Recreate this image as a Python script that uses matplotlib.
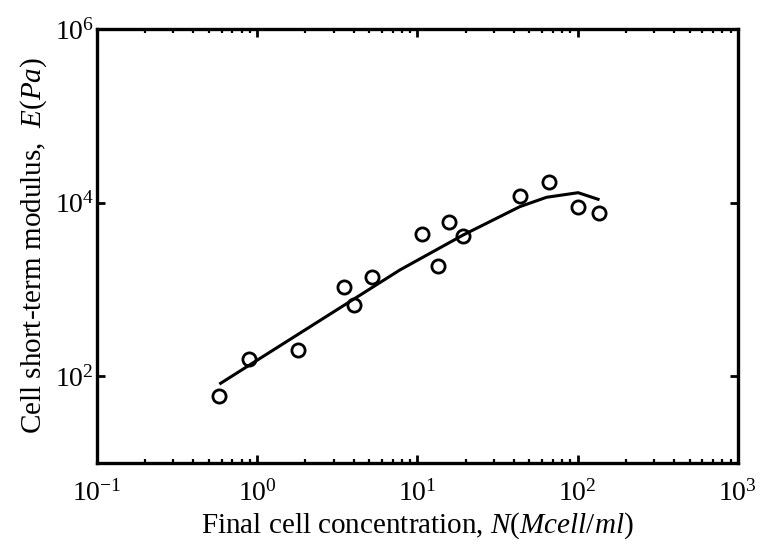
import matplotlib
matplotlib.use('Agg')
import matplotlib.pyplot as plt
from matplotlib.ticker import LogLocator, NullLocator, FixedLocator

plt.rcParams['font.family'] = 'Liberation Serif'
plt.rcParams['mathtext.fontset'] = 'custom'
plt.rcParams['mathtext.rm'] = 'Liberation Serif'
plt.rcParams['mathtext.it'] = 'Liberation Serif:italic'

# measured data (circles)
conc = [0.577, 0.89, 1.80, 3.49, 4.01, 5.21, 10.7, 13.5, 15.8, 19.3, 43.5, 66, 99.8, 135]
modulus = [59.6, 157, 199, 1057, 667, 1378, 4350, 1876, 6030, 4125, 11900, 17400, 8830, 7650]

# fitted curve
fit_conc = [0.591, 7.77, 19.3, 43.5, 63.9, 100.6, 134]
fit_modulus = [82.8, 1674, 4236, 8970, 11510, 13000, 10920]

xticks = [0.1, 1, 10, 100, 1000]
xtick_labels = [r'$10^{-1}$', r'$10^{0}$', r'$10^{1}$', r'$10^{2}$', r'$10^{3}$']
yticks = [1e2, 1e4, 1e6]
ytick_labels = [r'$10^{2}$', r'$10^{4}$', r'$10^{6}$']

fig = plt.figure(figsize=(7.6, 5.47), dpi=100)
ax = fig.add_axes([0.1276, 0.1536, 0.8434, 0.7934])

ax.plot(fit_conc, fit_modulus, color='black', lw=2.2)
ax.plot(conc, modulus, 'o', mfc='none', mec='black', mew=2.0, ms=9.5)

ax.set_xscale('log')
ax.set_yscale('log')
ax.set_xlim(0.1, 1000)
ax.set_ylim(10, 1e6)

ax.xaxis.set_major_locator(FixedLocator(xticks))
ax.set_xticklabels(xtick_labels)
ax.xaxis.set_minor_locator(LogLocator(base=10, subs=range(2, 10), numticks=20))
ax.yaxis.set_major_locator(FixedLocator(yticks))
ax.set_yticklabels(ytick_labels)
ax.yaxis.set_minor_locator(NullLocator())

ax.tick_params(which='both', direction='in', top=True, right=True, width=2.0, labelsize=20)
ax.tick_params(which='major', length=6)
ax.tick_params(which='minor', length=3, width=1.6)
ax.tick_params(axis='x', pad=12)
ax.tick_params(axis='y', pad=2)
for s in ax.spines.values():
    s.set_linewidth(2.4)

ax.set_xlabel('Final cell concentration, $N$($Mcell/ml$)', fontsize=21, labelpad=3)
ax.set_ylabel('Cell short-term modulus,  $E$($Pa$)', fontsize=21, labelpad=4)

fig.savefig('out.png', dpi=100)
